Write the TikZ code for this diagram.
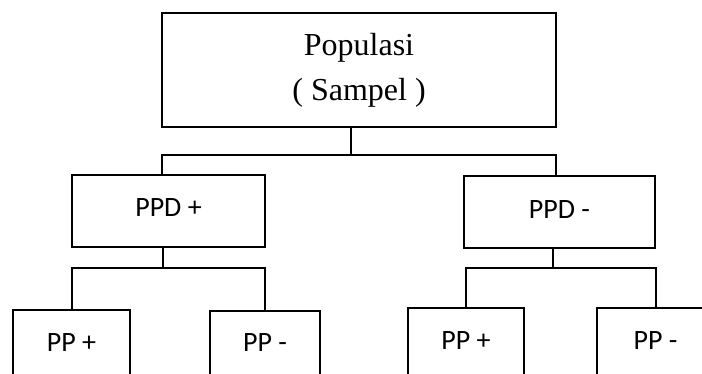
\documentclass[tikz,border=0pt]{standalone}
\usepackage{fontspec}
\setmainfont{Liberation Serif}
\newfontfamily\calibrifont{Carlito}

\begin{document}
\begin{tikzpicture}[
  x=1pt, y=-1pt,
  rootbox/.style={draw, line width=2.4pt, minimum width=394pt, minimum height=114pt, align=center, font=\fontsize{32}{45}\selectfont},
  groupbox/.style={draw, line width=2pt, minimum height=72pt, text height=18pt, text depth=6pt, font=\calibrifont\fontsize{28}{34}\selectfont},
  leafbox/.style={draw, line width=2pt, anchor=north, minimum height=90pt, text height=18pt, text depth=26pt, font=\calibrifont\fontsize{28}{34}\selectfont},
  link/.style={line width=2pt}
]
\useasboundingbox (0,0) rectangle (702,374);
\clip (0,0) rectangle (702,374);

\node[rootbox] (pop) at (359,70) {Populasi\\( Sampel )};
\node[groupbox, minimum width=193pt] (ppdpos) at (168.5,211) {PPD +};
\node[groupbox, minimum width=191pt] (ppdneg) at (559.5,212.5) {PPD -};
\node[leafbox, minimum width=117pt] (pposa) at (71.5,309) {PP +};
\node[leafbox, minimum width=110pt] (pnega) at (265,310) {PP -};
\node[leafbox, minimum width=116pt] (pposb) at (466,307) {PP +};
\node[leafbox, minimum width=117pt] (pnegb) at (655.5,307) {PP -};

% junctions of the tree
\coordinate (rootjoin) at (351,155);
\coordinate (busleft) at (162,155);
\coordinate (busright) at (556,155);
\coordinate (posjoin) at (162.5,268);
\coordinate (negjoin) at (553,268);

\draw[link] (pop.south -| rootjoin) -- (rootjoin);
\draw[link] (ppdpos.north -| busleft) -- (busleft) -- (busright) -- (ppdneg.north -| busright);
\draw[link] (ppdpos.south -| posjoin) -- (posjoin);
\draw[link] (pposa.north) |- (posjoin) -| (pnega.north);
\draw[link] (ppdneg.south -| negjoin) -- (negjoin);
\draw[link] (pposb.north) |- (negjoin) -| (pnegb.north);
\end{tikzpicture}
\end{document}
